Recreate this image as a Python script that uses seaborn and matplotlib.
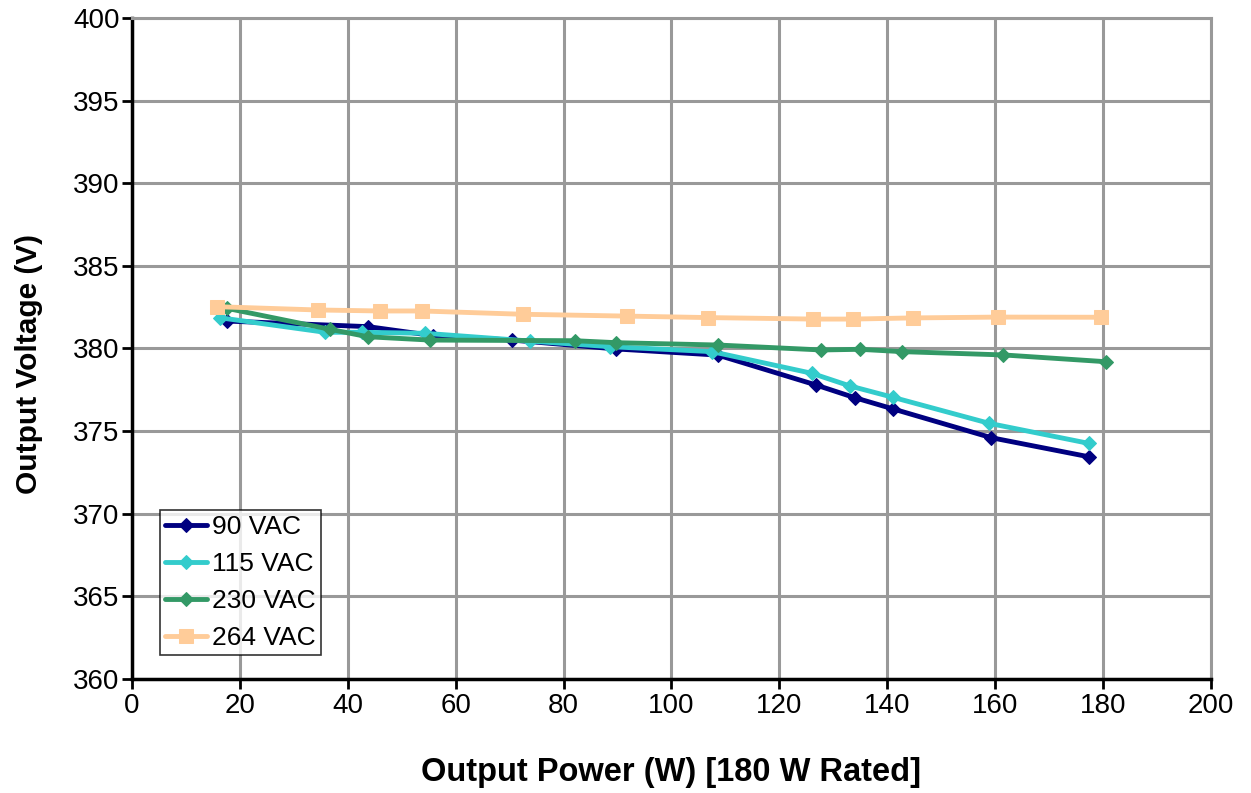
import pandas as pd
import matplotlib
matplotlib.use('Agg')
import matplotlib.pyplot as plt
import seaborn as sns

# Data
p_90 = [17.6, 43.8, 55.8, 70.4, 89.8, 108.6, 126.8, 134.0, 141.1, 159.3, 177.3]
v_90 = [381.66, 381.32, 380.78, 380.51, 379.97, 379.6, 377.79, 377.02, 376.34, 374.6, 373.45]

p_115 = [16.3, 35.8, 42.6, 54.3, 73.8, 88.6, 107.5, 126.0, 133.1, 141.0, 158.9, 177.3]
v_115 = [381.86, 380.98, 380.98, 380.92, 380.45, 380.11, 379.81, 378.5, 377.73, 377.05, 375.47, 374.26]

p_230 = [17.6, 36.7, 43.7, 55.2, 82.1, 89.8, 108.6, 127.8, 134.9, 142.7, 161.5, 180.5]
v_230 = [382.43, 381.16, 380.71, 380.51, 380.47, 380.35, 380.21, 379.91, 379.95, 379.81, 379.61, 379.2]

p_264 = [15.7, 34.5, 46.0, 53.7, 72.5, 91.7, 106.8, 126.2, 133.6, 144.8, 160.5, 179.7]
v_264 = [382.53, 382.33, 382.27, 382.27, 382.07, 381.96, 381.87, 381.78, 381.78, 381.85, 381.9, 381.89]

series_names = ['90 VAC', '115 VAC', '230 VAC', '264 VAC']
series_power = [p_90, p_115, p_230, p_264]
series_volt = [v_90, v_115, v_230, v_264]
colors = ['#000080', '#33CCCC', '#339966', '#FFCC99']
markers = ['D', 'D', 'D', 's']
msizes = [7.5, 7.5, 7.5, 10]

sns.set_style("white")
plt.rcParams['font.family'] = ['Liberation Sans', 'DejaVu Sans']
plt.rcParams['text.color'] = 'black'
plt.rcParams['axes.labelcolor'] = 'black'
plt.rcParams['xtick.color'] = 'black'
plt.rcParams['ytick.color'] = 'black'

fig = plt.figure(figsize=(12.51, 7.93), dpi=100)
ax = fig.add_axes([0.1055, 0.1438, 0.8625, 0.8335])

for name, px, vy, c, m, ms in zip(series_names, series_power, series_volt, colors, markers, msizes):
    df = pd.DataFrame({'power': px, 'volt': vy})
    sns.lineplot(data=df, x='power', y='volt', ax=ax, color=c, marker=m,
                 markersize=ms, markeredgecolor=c, linewidth=3.5,
                 sort=False, estimator=None, label=name)

ax.set_xlim(0, 200)
ax.set_ylim(360, 400)
ax.set_xticks(range(0, 201, 20))
ax.set_yticks(range(360, 401, 5))
ax.grid(True, color='#999999', linewidth=2.2)
ax.set_axisbelow(True)

for s in ['left', 'bottom']:
    ax.spines[s].set_color('black')
    ax.spines[s].set_linewidth(2.5)
for s in ['top', 'right']:
    ax.spines[s].set_color('#999999')
    ax.spines[s].set_linewidth(2.2)

ax.tick_params(axis='both', direction='out', length=7, width=2, color='black',
               labelcolor='black', labelsize=20, bottom=True, left=True)
ax.tick_params(axis='y', pad=2)
ax.tick_params(axis='x', pad=3)

ax.set_xlabel('Output Power (W) [180 W Rated]', fontsize=23.5, fontweight='bold')
ax.set_ylabel('Output Voltage (V)', fontsize=21.5, fontweight='bold')
ax.xaxis.set_label_coords(0.5, -0.118)
ax.yaxis.set_label_coords(-0.0825, 0.477)

leg = ax.legend(loc='lower left', bbox_to_anchor=(0.026, 0.036), fontsize=19,
                frameon=True, fancybox=False, handlelength=1.6, borderpad=0.18,
                labelspacing=0.5, handletextpad=0.2, borderaxespad=0)
leg.get_frame().set_edgecolor('black')
leg.get_frame().set_linewidth(1.2)

fig.savefig('out.png', dpi=100)
